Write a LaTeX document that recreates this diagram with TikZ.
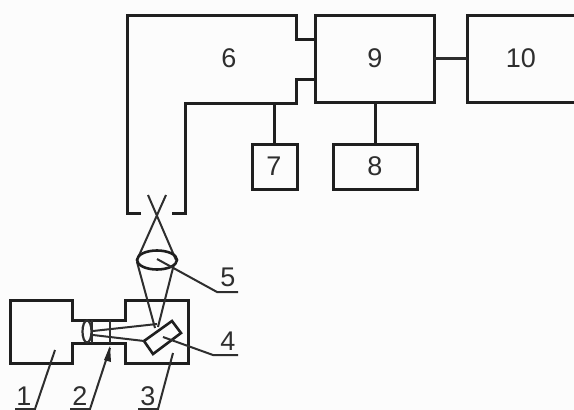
\documentclass[tikz,border=0pt]{standalone}
\usepackage{fontspec}
\setmainfont{Liberation Sans}
\begin{document}
\begin{tikzpicture}[x=1pt,y=-1pt,
  ln/.style={draw=black!88,line width=3pt,line join=miter},
  thin ln/.style={draw=black!82,line width=2pt},
  blockbox/.style={ln,inner sep=0pt,outer sep=0pt,anchor=north west},
  lab/.style={font=\fontsize{27}{29}\selectfont,text=black!82,inner sep=0pt}]
\useasboundingbox[fill=black!1] (0,0) rectangle (574,410);
% blocks
\node[blockbox,minimum width=119pt,minimum height=87pt] (b9) at (315,15) {};
\node[blockbox,minimum width=110pt,minimum height=87pt] (b10) at (467,15) {};
\node[blockbox,minimum width=45pt,minimum height=45pt] (b7) at (252,144) {};
\node[blockbox,minimum width=84pt,minimum height=45pt] (b8) at (333,144) {};
\coordinate (j7) at (b7.north |- 0,103);
% block 6
\draw[ln] (141,213) -- (127,213) -- (127,15) -- (296,15) -- (296,39) -- (315,39);
\draw[ln] (172,213) -- (185,213) -- (185,103) -- (296,103) -- (296,79) -- (315,79);
\draw[ln] (b7.north) -- (j7);
\draw[ln] (b8.north) -- (b8.north |- b9.south);
\draw[thin ln,line width=2.4pt] (b9.east) -- (b10.west);
% source + chamber
\draw[ln] (10,300) -- (72,300) -- (72,320) -- (125,320) -- (125,300) -- (188,300) -- (188,363) -- (125,363) -- (125,343) -- (72,343) -- (72,363) -- (10,363) -- cycle;
% small lens, slit
\draw[thin ln,line width=2.2pt] (87,331.5) ellipse (4.5 and 11);
\draw[thin ln,line width=2.4pt] (92,320) -- (92,343) (110,320) -- (110,343);
% mirror
\draw[ln,line width=2.6pt] (172,321) -- (181,333) -- (153,354) -- (144,341) -- cycle;
% beams
\draw[thin ln] (157,324) -- (93,331) (144,341) -- (93,335);
\draw[thin ln] (155,328) -- (137,262) (158,327) -- (174,264);
\draw[thin ln] (137,260) -- (166,195) (176,260) -- (148,195);
% lens 5
\draw[ln,line width=2.6pt] (157,260) ellipse (20 and 9.5);
% leaders
\coordinate (a5) at (157,259);
\coordinate (e5) at (217,292);
\coordinate (u5) at (238,292);
\coordinate (a4) at (163,337);
\coordinate (e4) at (213,355);
\coordinate (u4) at (238,355);
\draw[thin ln] (a5) -- (e5) -- (u5);
\draw[thin ln] (a4) -- (e4) -- (u4);
\draw[thin ln] (173,353) -- (158,409) -- (138,409);
\draw[thin ln] (110,348) -- (90,409) -- (70,409);
\draw[thin ln] (55,350) -- (35,409) -- (15,409);
\fill[black!85] (110,346) -- (104,360) -- (111,362) -- cycle;
% labels
\node[lab] (l6) at (229,58) {6};
\node[lab] (l9) at (375,58) {9};
\node[lab] (l10) at (521,58) {10};
\node[lab] (l7) at (274,166) {7};
\node[lab] (l8) at (375,166) {8};
\node[lab] (l5) at (228,277) {5};
\node[lab] (l4) at (228,341) {4};
\node[lab] (l3) at (148,396) {3};
\node[lab] (l2) at (80,396) {2};
\node[lab] (l1) at (24,396) {1};
\end{tikzpicture}
\end{document}
